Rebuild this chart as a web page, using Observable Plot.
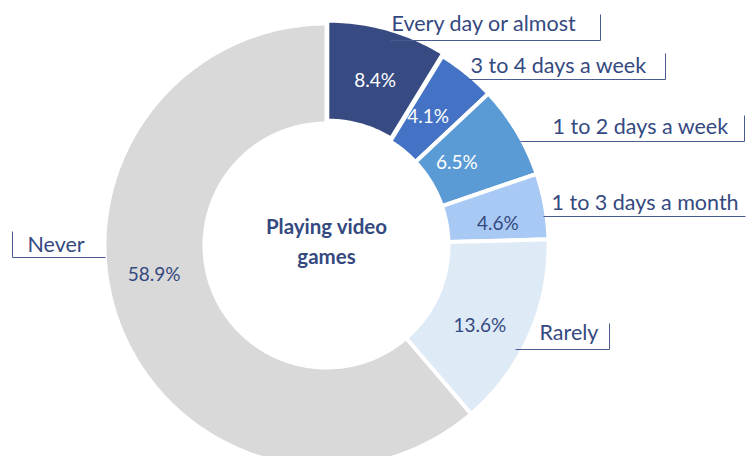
<!DOCTYPE html>
<html><head><meta charset="utf-8">
<script src="https://cdn.jsdelivr.net/npm/d3@7"></script>
<script src="https://cdn.jsdelivr.net/npm/@observablehq/plot@0.6"></script>
<style>body{margin:0;background:#fff;} #chart svg{display:block;}</style>
</head><body><div id="chart"></div>
<script>
// ---- data ----
const categories = ["Every day or almost","3 to 4 days a week","1 to 2 days a week","1 to 3 days a month","Rarely","Never"];
const values = [8.4, 4.1, 6.5, 4.6, 13.6, 58.9];
const valueLabels = ["8.4%","4.1%","6.5%","4.6%","13.6%","58.9%"];
const centerTitle = ["Playing video","games"];

// ---- styles / layout ----
const W = 746, H = 456, cx = 326, cy = 245, R = 222, r0 = 122;
const sliceColors = ["#374b82","#4472c4","#5b9bd5","#a9c9f5","#deeaf6","#d9d9d9"];
const valueColors = ["#ffffff","#ffffff","#ffffff","#34497f","#34497f","#34497f"];
const explode = [3,0,0,0,0,0];
const textColor = "#34497f", lineColor = "#4a5b90";
const font = "Lato, 'Noto Sans', sans-serif";
// nudges of percentage labels from the ring's mid-radius centroid
const valueNudge = [[2,1],[-7,5],[-17,6],[2,9],[-4,11],[-11,-30]];
// callout boxes: text start, underline span and tick side
const callouts = [
  {tx:391, ty:24,  x0:390, x1:600, ly:40,  tick:"right"},
  {tx:470, ty:66,  x0:468, x1:665, ly:79,  tick:"right"},
  {tx:552, ty:127, x0:520, x1:744, ly:141, tick:"right"},
  {tx:551, ty:203, x0:543, x1:745, ly:216, tick:null},
  {tx:539, ty:333, x0:515, x1:609, ly:349, tick:"right"},
  {tx:27,  ty:245, x0:12,  x1:105, ly:257, tick:"left"}
];
const tickLen = 26;

// ---- geometry from values ----
const arcs = d3.pie().sort(null).value(d => d)(values);
const slicePts = [];
const valuePos = [];
arcs.forEach((p, i) => {
  const mid = (p.startAngle + p.endAngle) / 2;
  const ox = explode[i] * Math.sin(mid), oy = -explode[i] * Math.cos(mid);
  const n = Math.max(2, Math.ceil((p.endAngle - p.startAngle) / (Math.PI / 180)));
  const ring = [];
  for (let k = 0; k <= n; k++) ring.push([R, p.startAngle + (p.endAngle - p.startAngle) * k / n]);
  for (let k = n; k >= 0; k--) ring.push([r0, p.startAngle + (p.endAngle - p.startAngle) * k / n]);
  ring.push(ring[0]);
  ring.forEach(([rr, a]) => slicePts.push({
    key: categories[i], fill: sliceColors[i],
    x: cx + ox + rr * Math.sin(a), y: cy + oy - rr * Math.cos(a)
  }));
  const rm = (R + r0) / 2;
  valuePos.push({
    text: valueLabels[i], fill: valueColors[i],
    x: cx + rm * Math.sin(mid) + valueNudge[i][0],
    y: cy - rm * Math.cos(mid) + valueNudge[i][1]
  });
});

const calloutText = callouts.map((c, i) => ({x: c.tx, y: c.ty, text: categories[i]}));
const segs = [];
callouts.forEach(c => {
  segs.push({x1: c.x0, y1: c.ly, x2: c.x1, y2: c.ly});
  if (c.tick) {
    const tx = c.tick === "right" ? c.x1 : c.x0;
    segs.push({x1: tx, y1: c.ly - tickLen, x2: tx, y2: c.ly});
  }
});

const chart = Plot.plot({
  width: W, height: H, margin: 0,
  x: {domain: [0, W], range: [0, W], axis: null},
  y: {domain: [0, H], range: [0, H], axis: null},
  color: {type: "identity"},
  style: {fontFamily: font, background: "#fff"},
  marks: [
    Plot.line(slicePts, {x: "x", y: "y", z: "key", fill: "fill", stroke: "#ffffff", strokeWidth: 4, strokeLinejoin: "miter"}),
    Plot.text(valuePos, {x: "x", y: "y", text: "text", fill: "fill", fontSize: 19, fontFamily: font}),
    Plot.text([centerTitle.join("\n")], {x: () => cx, y: () => cy - 6, text: d => d, fill: textColor, fontSize: 20.5, fontWeight: "bold", lineHeight: 1.45, fontFamily: font}),
    Plot.link(segs, {x1: "x1", y1: "y1", x2: "x2", y2: "y2", stroke: lineColor, strokeWidth: 1}),
    Plot.text(calloutText, {x: "x", y: "y", text: "text", textAnchor: "start", fill: textColor, fontSize: 21.5, fontFamily: font})
  ]
});
document.getElementById("chart").appendChild(chart);
</script>
</body></html>
